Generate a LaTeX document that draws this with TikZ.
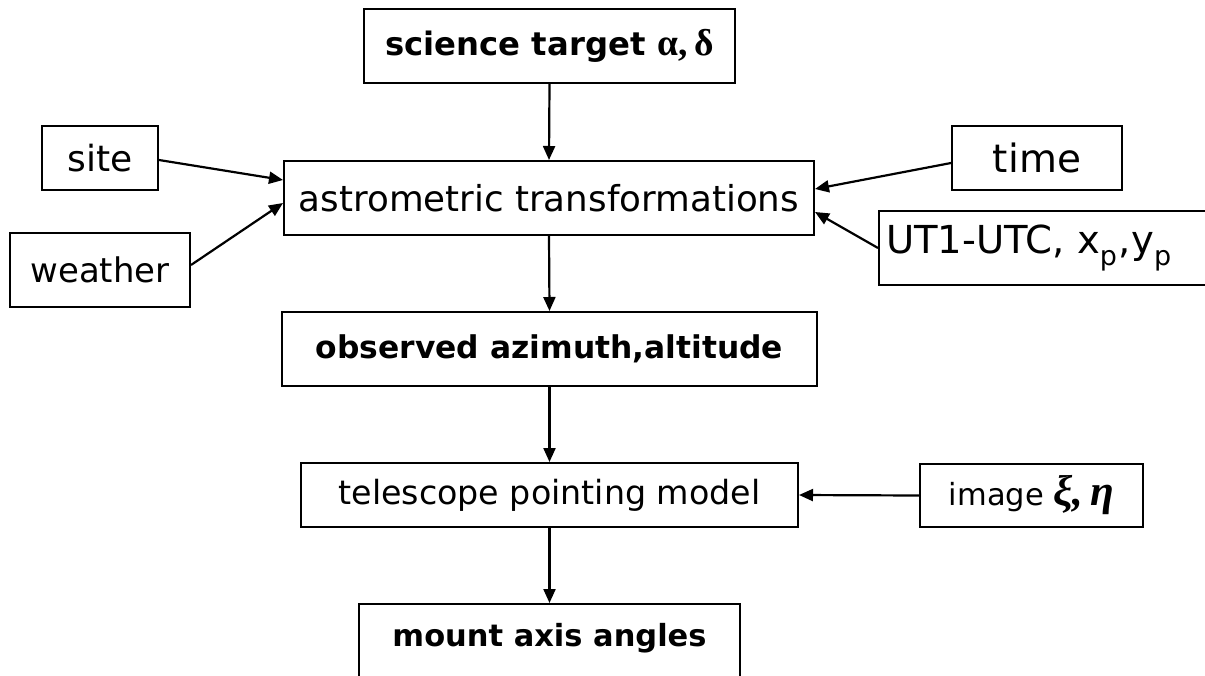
\documentclass[tikz,border=0pt]{standalone}
\usepackage{fontspec}
\setmainfont{DejaVu Sans}
\newfontfamily\greekserif{Liberation Serif}
\usetikzlibrary{arrows.meta}
\begin{document}
\begin{tikzpicture}[x=1pt,y=-1pt,
  box/.style={draw, line width=2pt, inner sep=0pt, rectangle},
  arr/.style={line width=2.2pt, -{Triangle[length=14pt,width=12pt]}}]
\useasboundingbox (0,0) rectangle (1205,675);
\clip (0,0) rectangle (1205,675);
% nodes
\node[box, minimum width=371pt, minimum height=74pt] (sci) at (549.5,46)
  {\resizebox{260pt}{!}{\bfseries science target}\hspace{12pt}\resizebox{56pt}{!}{\greekserif\bfseries α,\,δ}};
\node[box, minimum width=116pt, minimum height=64pt] (site) at (100,158)
  {\resizebox{65pt}{!}{site}};
\node[box, minimum width=180pt, minimum height=74pt] (weather) at (100,270)
  {\resizebox{139pt}{!}{weather}};
\node[box, minimum width=530pt, minimum height=74pt] (astro) at (549,198)
  {\resizebox{500pt}{!}{astrometric transformations}};
\node[box, minimum width=170pt, minimum height=64pt] (time) at (1037,158)
  {\resizebox{88pt}{!}{time}};
\node[box, minimum width=342pt, minimum height=74pt, anchor=west] (ut1) at (878,248)
  {\hspace*{7pt}\resizebox{287pt}{!}{UT1-UTC, x\raisebox{-0.15em}{\textsubscript{p}},y\raisebox{-0.15em}{\textsubscript{p}}}\hspace*{48pt}};
\node[box, minimum width=535pt, minimum height=74pt] (obs) at (549.5,349)
  {\resizebox{467pt}{!}{\bfseries observed azimuth,altitude}};
\node[box, minimum width=497pt, minimum height=64pt] (tel) at (549.5,495)
  {\resizebox{422pt}{!}{telescope pointing model}};
\node[box, minimum width=223pt, minimum height=63pt] (img) at (1031.5,495.5)
  {\resizebox{95pt}{!}{image}\hspace{9pt}\resizebox{61pt}{!}{\greekserif\bfseries\itshape ξ,\,η}};
\node[box, minimum width=381pt, minimum height=110pt, anchor=north] (mount) at (549.5,603)
  {};
\node[inner sep=0pt] (mountlbl) at (549.5,638)
  {\resizebox{314pt}{!}{\bfseries mount axis angles}};
% connectors
\draw[arr] (sci.south) -- (astro.north);
\draw[arr] ([yshift=-2pt]site.east) -- ([yshift=18pt]astro.west);
\draw[arr] ([yshift=5pt]weather.east) -- ([yshift=-5pt]astro.west);
\draw[arr] ([yshift=-5pt]time.west) -- ([yshift=9pt]astro.east);
\draw[arr] (ut1.west) -- ([yshift=-14pt]astro.east);
\draw[arr] (astro.south) -- (obs.north);
\draw[arr] (obs.south) -- (tel.north);
\draw[arr] (tel.south) -- (mount.north);
\draw[arr] (img.west) -- (tel.east);
\end{tikzpicture}
\end{document}
